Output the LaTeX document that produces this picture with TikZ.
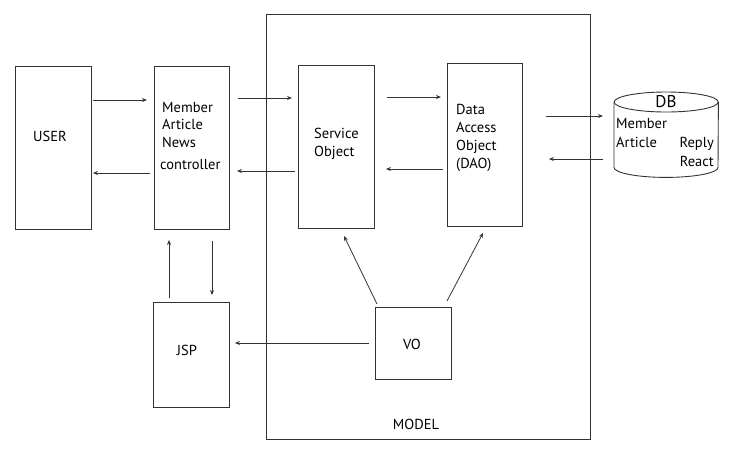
\documentclass[tikz,border=0pt]{standalone}
\usepackage{fontspec}
\setmainfont{PT Sans}
\usetikzlibrary{arrows.meta,calc}
\definecolor{ink}{HTML}{333333}
\tikzset{
  box/.style={draw=ink, line width=0.9pt, inner sep=0pt, anchor=north west},
  arr/.style={draw=ink, line width=0.8pt, -{Stealth[length=5pt,width=4pt]}},
  txt/.style={inner sep=0pt, font=\fontsize{14.5}{16}\selectfont, text=black},
}
\begin{document}
\begin{tikzpicture}[x=1pt,y=-1pt]
\useasboundingbox (0,0) rectangle (729,448);
% boxes
\node[box, minimum width=76pt, minimum height=163pt] (user) at (15,66) {};
\node[box, minimum width=75pt, minimum height=163pt] (ctrl) at (154,66) {};
\node[box, line width=1.1pt, minimum width=324pt, minimum height=425pt] (model) at (266,14) {};
\node[box, minimum width=76pt, minimum height=163pt] (svc) at (298,65) {};
\node[box, minimum width=75pt, minimum height=163pt] (dao) at (447,63) {};
\node[box, minimum width=76pt, minimum height=105pt] (jsp) at (153,302) {};
\node[box, minimum width=76pt, minimum height=72pt] (vo) at (375,307) {};
% DB cylinder
\node[inner sep=0pt, minimum width=104pt, minimum height=85pt, anchor=north west] (db) at (614,92) {};
\draw[ink, line width=0.9pt]
  ($(db.north west)+(0,10)$) -- ($(db.south west)+(0,-10)$)
  arc[start angle=180, end angle=360, x radius=52, y radius=-10]
  -- ($(db.north east)+(0,10)$);
\draw[ink, line width=0.9pt] ($(db.north)+(0,10)$) ellipse[x radius=52, y radius=10];
% texts
\node[txt, anchor=base west] (tuser) at (33,141) {USER};
\node[txt, anchor=base west] (tc1) at (162,112) {Member};
\node[txt, anchor=base west] (tc2) at (162,129) {Article};
\node[txt, anchor=base west] (tc3) at (162,147) {News};
\node[txt, anchor=base west] (tc4) at (160,169) {controller};
\node[txt, anchor=base west] (ts1) at (314,138) {Service};
\node[txt, anchor=base west] (ts2) at (314,156) {Object};
\node[txt, anchor=base west] (td1) at (456,114) {Data};
\node[txt, anchor=base west] (td2) at (456,132) {Access};
\node[txt, anchor=base west] (td3) at (456,150) {Object};
\node[txt, anchor=base west] (td4) at (456,168) {(DAO)};
\node[txt, anchor=base, font=\fontsize{17}{19}\selectfont] (tdb) at (666,107) {DB};
\node[txt, anchor=base west] (tdb1) at (616,128) {Member};
\node[txt, anchor=base west] (tdb2) at (616,147) {Article};
\node[txt, anchor=base east] (tdb3) at (714,147) {Reply};
\node[txt, anchor=base east] (tdb4) at (714,166) {React};
\node[txt, anchor=base] (tjsp) at (187,355) {JSP};
\node[txt, anchor=base] (tvo) at (412,349) {VO};
\node[txt, anchor=base] (tmodel) at (416,429) {MODEL};
% connectors
\draw[arr, shorten <=1pt, shorten >=7pt] (user.east |- 0,100) -- (ctrl.west |- 0,100);
\draw[arr, shorten <=4pt, shorten >=1pt] (ctrl.west |- 0,173) -- (user.east |- 0,173);
\draw[arr, shorten <=8pt, shorten >=6pt] (ctrl.east |- 0,98) -- (svc.west |- 0,98);
\draw[arr, shorten <=3pt, shorten >=7pt] (svc.west |- 0,171) -- (ctrl.east |- 0,171);
\draw[arr, shorten <=12pt, shorten >=6pt] (svc.east |- 0,97) -- (dao.west |- 0,97);
\draw[arr, shorten <=4pt, shorten >=11pt] (dao.west |- 0,169) -- (svc.east |- 0,169);
\draw[arr, shorten <=23pt, shorten >=11pt] (dao.east |- 0,116) -- (db.west |- 0,116);
\draw[arr, shorten <=11pt, shorten >=26pt] (db.west |- 0,159) -- (dao.east |- 0,159);
\draw[arr, shorten <=4pt, shorten >=10pt] (jsp.north -| 169,0) -- (ctrl.south -| 169,0);
\draw[arr, shorten <=11pt, shorten >=7pt] (ctrl.south -| 212,0) -- (jsp.north -| 212,0);
\draw[arr, shorten <=6pt, shorten >=5pt] (vo.west |- 0,343) -- (jsp.east |- 0,343);
\draw[arr] (377,304) coordinate (vos) -- (344,236) coordinate (svt);
\draw[arr] (447,301) coordinate (vod) -- (483,233) coordinate (daot);
\end{tikzpicture}
\end{document}
